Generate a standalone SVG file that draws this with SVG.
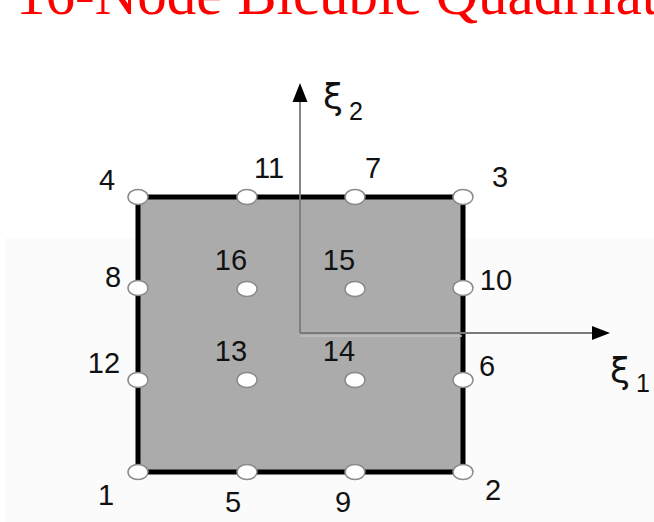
<svg xmlns="http://www.w3.org/2000/svg" width="654" height="522" viewBox="0 0 654 522">
<defs>
<style>
.lbl{font-family:"Liberation Sans",Arial,sans-serif;font-size:29px;fill:#111;text-anchor:middle}
.nd{fill:#fff;stroke:#8a8a8a;stroke-width:1.5}
.ax{stroke:#7a7a7a;stroke-width:1.8;fill:none}
.xi{font-family:"DejaVu Sans","Liberation Sans",sans-serif;font-size:36px;fill:#111}
.sub{font-family:"Liberation Sans",Arial,sans-serif;font-size:25px;fill:#111}
</style>
</defs>
<rect width="654" height="522" fill="#fff"/>
<rect x="5" y="238" width="649" height="284" fill="#fafbfa"/>
<text x="16" y="14" font-family="Liberation Serif,'Times New Roman',serif" font-size="59" fill="#ff0000">16-Node Bicubic Quadrilateral</text>
<g id="element">
<rect x="138" y="197" width="325" height="275" fill="#ababab" stroke="#000" stroke-width="5"/>
</g>
<g id="connectors">
<line class="ax" x1="300" y1="333" x2="300" y2="100"/>
<line class="ax" x1="300" y1="333" x2="593" y2="333"/>
<line x1="301" y1="336" x2="462" y2="336" stroke="#c2c2c2" stroke-width="1.5"/>
<path d="M300,83 L292.5,102 L307.5,102 z" fill="#000"/>
<path d="M610,333 L592,326 L592,340 z" fill="#000"/>
</g>
<g id="axis-xi2"><text class="xi" x="323" y="109">ξ</text><text class="sub" x="349" y="120">2</text></g>
<g id="axis-xi1"><text class="xi" x="610" y="383">ξ</text><text class="sub" x="636" y="392">1</text></g>
<g id="n1"><ellipse class="nd" cx="138" cy="472" rx="10" ry="7.5"/><text class="lbl" x="106" y="505">1</text></g>
<g id="n2"><ellipse class="nd" cx="463" cy="472" rx="10" ry="7.5"/><text class="lbl" x="493" y="500">2</text></g>
<g id="n3"><ellipse class="nd" cx="463" cy="197" rx="10" ry="7.5"/><text class="lbl" x="500" y="187">3</text></g>
<g id="n4"><ellipse class="nd" cx="138" cy="197" rx="10" ry="7.5"/><text class="lbl" x="107" y="190">4</text></g>
<g id="n5"><ellipse class="nd" cx="247" cy="472" rx="10" ry="7.5"/><text class="lbl" x="233" y="512">5</text></g>
<g id="n6"><ellipse class="nd" cx="463" cy="380" rx="10" ry="7.5"/><text class="lbl" x="487" y="376">6</text></g>
<g id="n7"><ellipse class="nd" cx="355" cy="197" rx="10" ry="7.5"/><text class="lbl" x="373" y="178">7</text></g>
<g id="n8"><ellipse class="nd" cx="138" cy="288" rx="10" ry="7.5"/><text class="lbl" x="113" y="287">8</text></g>
<g id="n9"><ellipse class="nd" cx="355" cy="472" rx="10" ry="7.5"/><text class="lbl" x="343" y="512">9</text></g>
<g id="n10"><ellipse class="nd" cx="463" cy="288" rx="10" ry="7.5"/><text class="lbl" x="496" y="290">10</text></g>
<g id="n11"><ellipse class="nd" cx="247" cy="197" rx="10" ry="7.5"/><text class="lbl" x="269" y="178">11</text></g>
<g id="n12"><ellipse class="nd" cx="138" cy="380" rx="10" ry="7.5"/><text class="lbl" x="104" y="373">12</text></g>
<g id="n13"><ellipse class="nd" cx="247" cy="380" rx="10" ry="7.5"/><text class="lbl" x="231" y="361">13</text></g>
<g id="n14"><ellipse class="nd" cx="355" cy="380" rx="10" ry="7.5"/><text class="lbl" x="339" y="361">14</text></g>
<g id="n15"><ellipse class="nd" cx="355" cy="289" rx="10" ry="7.5"/><text class="lbl" x="339" y="270">15</text></g>
<g id="n16"><ellipse class="nd" cx="247" cy="289" rx="10" ry="7.5"/><text class="lbl" x="231" y="270">16</text></g>
</svg>
